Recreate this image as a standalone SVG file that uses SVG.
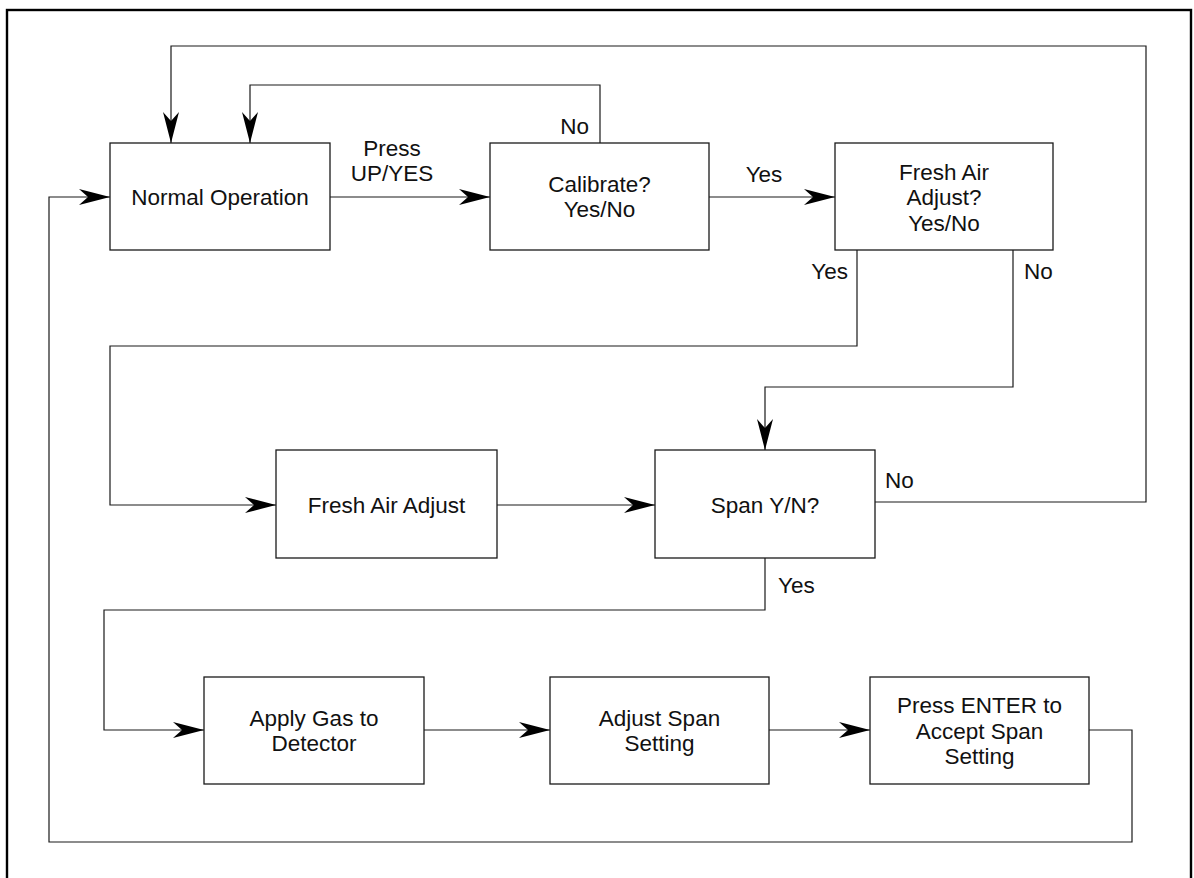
<svg xmlns="http://www.w3.org/2000/svg" width="1194" height="878" viewBox="0 0 1194 878">
  <style>
    .box { fill: #ffffff; stroke: #1a1a1a; stroke-width: 1.3; }
    .arrow { fill: none; stroke: #1a1a1a; stroke-width: 1.2; marker-end: url(#head); }
    text { font-family: "Liberation Sans", Arial, sans-serif; font-size: 22.5px; fill: #111111; }
    .c { text-anchor: middle; }
    .e { text-anchor: end; }
  </style>
  <defs>
    <!-- barbed arrowhead shared by every connector -->
    <marker id="head" markerUnits="userSpaceOnUse" viewBox="0 0 31 16" markerWidth="31" markerHeight="16" refX="31" refY="8" orient="auto">
      <path d="M0,0 L31,8 L0,16 L9,8 Z" fill="#000000"/>
    </marker>
  </defs>

  <rect x="0" y="0" width="1194" height="878" fill="#ffffff"/>
  <!-- page frame -->
  <rect x="7" y="10" width="1184" height="880" fill="none" stroke="#000000" stroke-width="2.4"/>

  <g id="connectors">
    <path class="arrow" d="M330,197 H490"/>
    <path class="arrow" d="M709,197 H835"/>
    <path class="arrow" d="M600,143 V85 H250 V143"/>
    <path class="arrow" d="M875,502 H1146 V46 H171 V143"/>
    <path class="arrow" d="M857,250 V346 H110 V505 H276"/>
    <path class="arrow" d="M1013,250 V387 H765 V450"/>
    <path class="arrow" d="M497,505 H655"/>
    <path class="arrow" d="M765,558 V610 H104 V730 H204"/>
    <path class="arrow" d="M424,730 H550"/>
    <path class="arrow" d="M769,730 H870"/>
    <path class="arrow" d="M1089,730 H1132 V842 H49 V197 H110"/>

    <text class="c" x="392" y="156">Press</text>
    <text class="c" x="392" y="181">UP/YES</text>
    <text class="e" x="589" y="134">No</text>
    <text class="c" x="764" y="182">Yes</text>
    <text class="e" x="848" y="279">Yes</text>
    <text x="1024" y="279">No</text>
    <text x="885" y="488">No</text>
    <text x="778" y="593">Yes</text>
  </g>

  <g id="normal-operation">
    <rect class="box" x="110" y="143" width="220" height="107"/>
    <text class="c" x="220" y="205">Normal Operation</text>
  </g>

  <g id="calibrate">
    <rect class="box" x="490" y="143" width="219" height="107"/>
    <text class="c" x="599.5" y="192">Calibrate?</text>
    <text class="c" x="599.5" y="217">Yes/No</text>
  </g>

  <g id="fresh-air-question">
    <rect class="box" x="835" y="143" width="218" height="107"/>
    <text class="c" x="944" y="180">Fresh Air</text>
    <text class="c" x="944" y="205">Adjust?</text>
    <text class="c" x="944" y="231">Yes/No</text>
  </g>

  <g id="fresh-air-adjust">
    <rect class="box" x="276" y="450" width="221" height="108"/>
    <text class="c" x="386.5" y="513">Fresh Air Adjust</text>
  </g>

  <g id="span">
    <rect class="box" x="655" y="450" width="220" height="108"/>
    <text class="c" x="765" y="513">Span Y/N?</text>
  </g>

  <g id="apply-gas">
    <rect class="box" x="204" y="677" width="220" height="107"/>
    <text class="c" x="314" y="726">Apply Gas to</text>
    <text class="c" x="314" y="751">Detector</text>
  </g>

  <g id="adjust-span">
    <rect class="box" x="550" y="677" width="219" height="107"/>
    <text class="c" x="659.5" y="726">Adjust Span</text>
    <text class="c" x="659.5" y="751">Setting</text>
  </g>

  <g id="accept-span">
    <rect class="box" x="870" y="677" width="219" height="107"/>
    <text class="c" x="979.5" y="713">Press ENTER to</text>
    <text class="c" x="979.5" y="739">Accept Span</text>
    <text class="c" x="979.5" y="764">Setting</text>
  </g>
</svg>
